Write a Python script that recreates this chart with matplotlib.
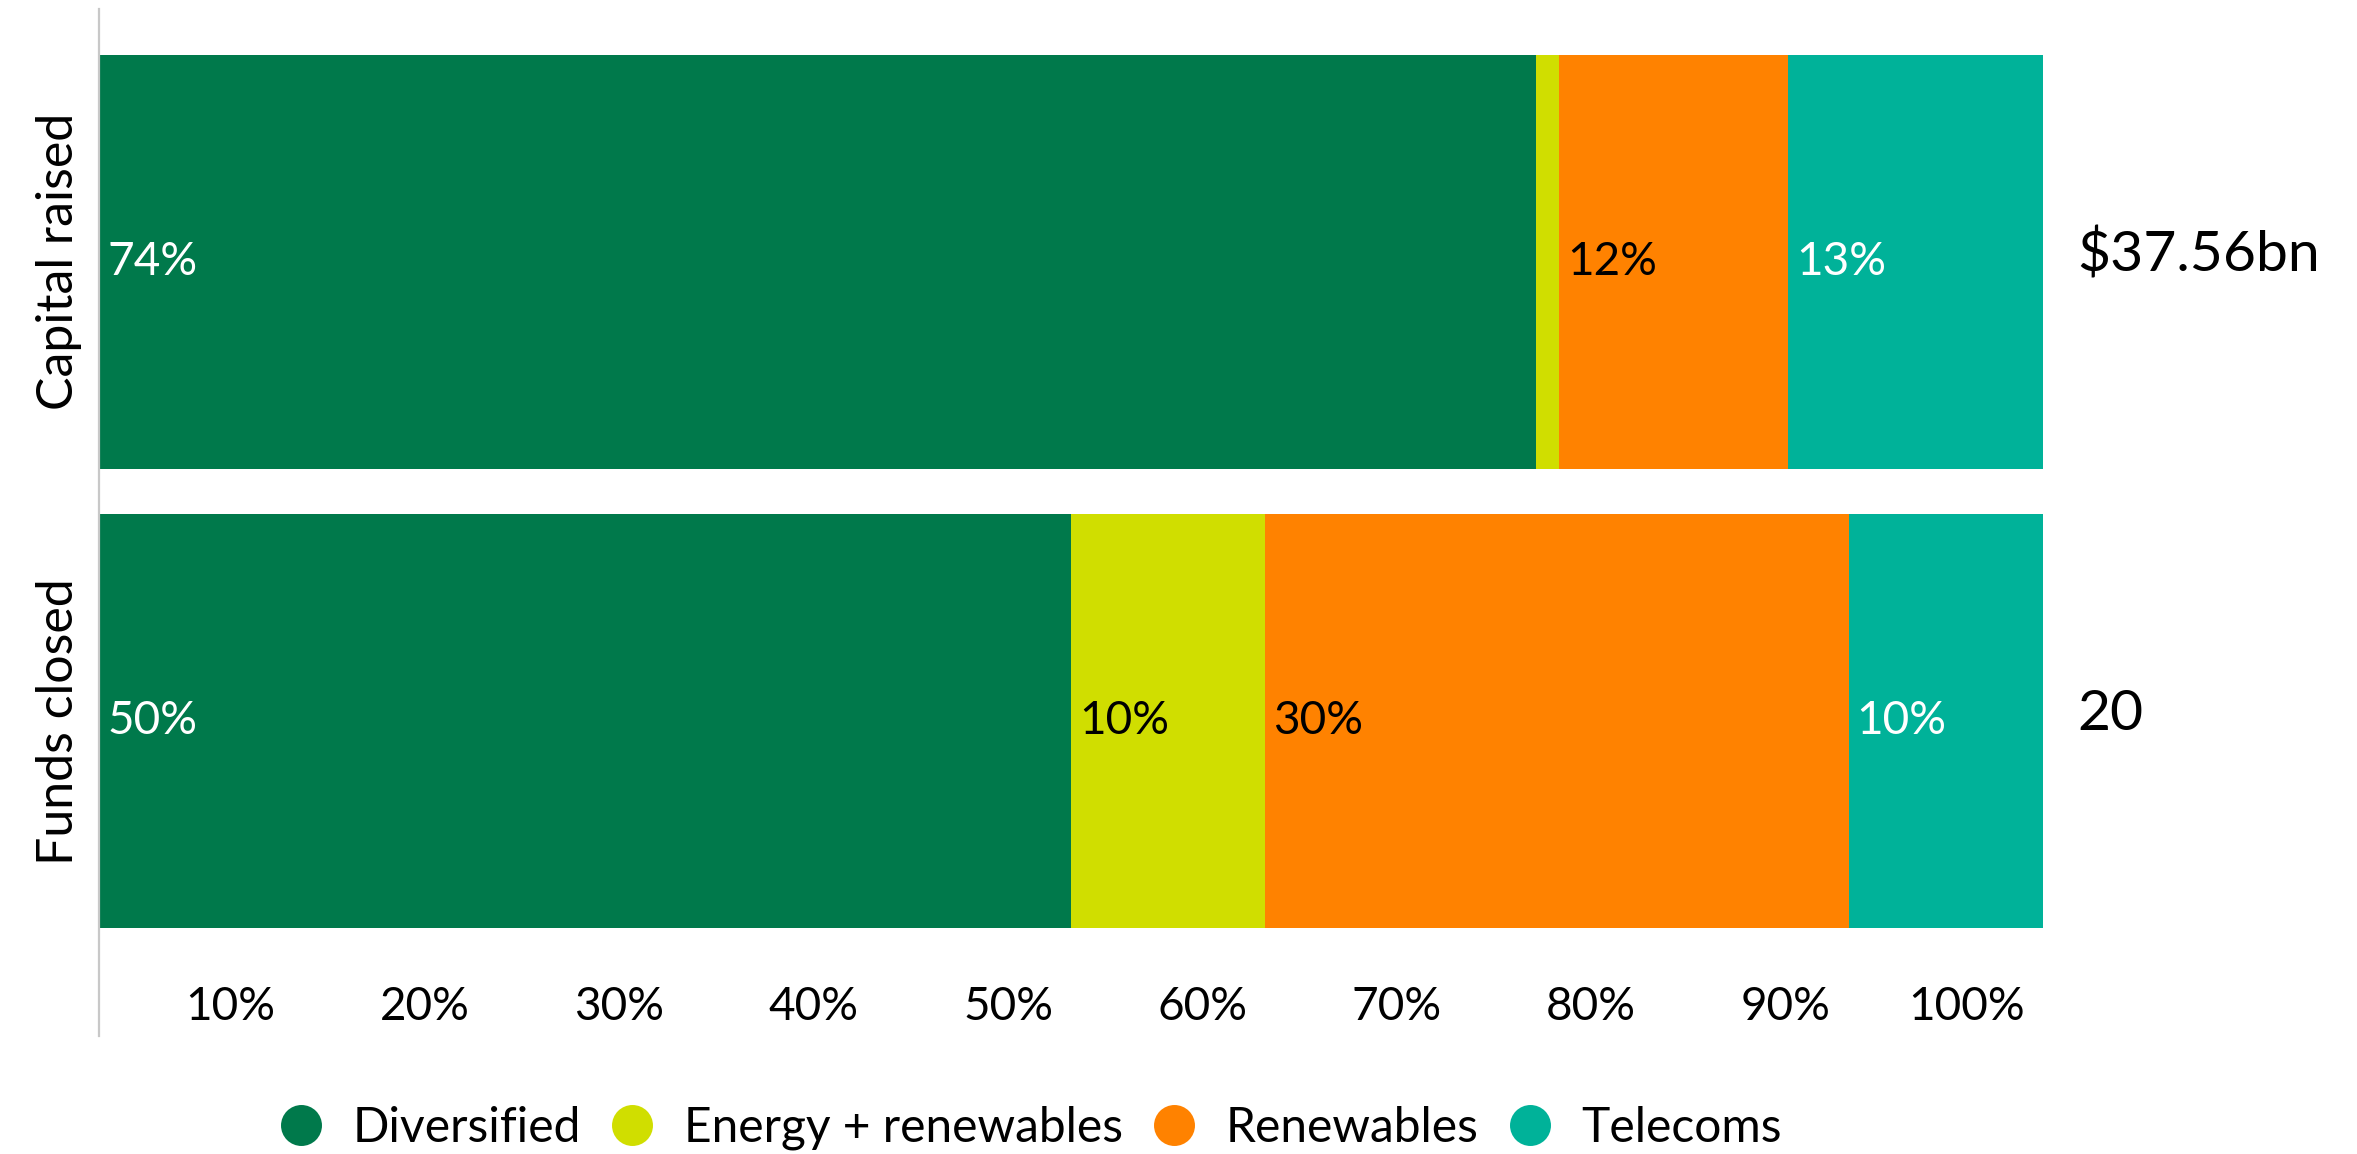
import matplotlib
matplotlib.use('Agg')
import matplotlib.pyplot as plt
import matplotlib.transforms as mtransforms
from matplotlib.lines import Line2D

plt.rcParams['font.family'] = ['Lato', 'DejaVu Sans']

# ---- data ----
categories = ['Funds closed', 'Capital raised']
segments = ['Diversified', 'Energy + renewables', 'Renewables', 'Telecoms']
funds_closed = [50, 10, 30, 10]
capital_raised = [73.9, 1.2, 11.8, 13.1]
totals = ['20', '$37.56bn']
tick_values = [10, 20, 30, 40, 50, 60, 70, 80, 90, 100]
tick_labels = ['10%', '20%', '30%', '40%', '50%', '60%', '70%', '80%', '90%', '100%']

colors = ['#00794B', '#D0DE00', '#FF8200', '#00B299']
label_colors = ['white', 'black', 'black', 'white']

W, H = 2357, 1154
fig = plt.figure(figsize=(W / 100, H / 100), dpi=100)
ax = fig.add_axes([99 / W, 1 - 1036 / H, (2043 - 99) / W, 1027 / H])

rows = [funds_closed, capital_raised]
ypos = [0, 1]
dpi_t = fig.dpi_scale_trans

for y, vals in zip(ypos, rows):
    left = 0
    for i, v in enumerate(vals):
        ax.barh(y, v, left=left, height=0.9, color=colors[i], linewidth=0)
        if v >= 5:
            tr = ax.transData + mtransforms.ScaledTranslation(8 / 100, 0, dpi_t)
            ax.text(left, y, f"{round(v)}%", transform=tr, ha='left', va='center',
                    fontsize=33, color=label_colors[i])
        left += v

for y, t in zip(ypos, totals):
    tr = ax.transData + mtransforms.ScaledTranslation(34 / 100, 7 / 100, dpi_t)
    ax.text(100, y, t, transform=tr, ha='left', va='center', fontsize=41, color='black')

ax.set_xlim(0, 100)
ax.set_ylim(-0.685, 1.55)

# x tick labels (inside the plot area, right-aligned just before each value)
ax.set_xticks([])
xtr = ax.get_xaxis_transform() + mtransforms.ScaledTranslation(-18 / 100, 0, dpi_t)
for v, lab in zip(tick_values, tick_labels):
    ax.text(v, 0.028, lab, transform=xtr, ha='right', va='center', fontsize=33, color='black')

ax.set_yticks(ypos)
ax.set_yticklabels(categories, rotation=90, va='center', fontsize=36)
ax.tick_params(axis='y', length=0, pad=12)

for s in ['top', 'right', 'bottom']:
    ax.spines[s].set_visible(False)
ax.spines['left'].set_color('#c8c8c8')
ax.spines['left'].set_linewidth(1.6)

handles = [Line2D([], [], marker='o', linestyle='none', markersize=29.5,
                  markerfacecolor=c, markeredgewidth=0) for c in colors]
fig.legend(handles, segments, loc='center', bbox_to_anchor=(0.437, 0.0225), ncol=4,
           frameon=False, fontsize=34.5, handlelength=0.95, handletextpad=0.6,
           columnspacing=0.6, borderaxespad=0, borderpad=0)

fig.savefig('out.png', dpi=100)
